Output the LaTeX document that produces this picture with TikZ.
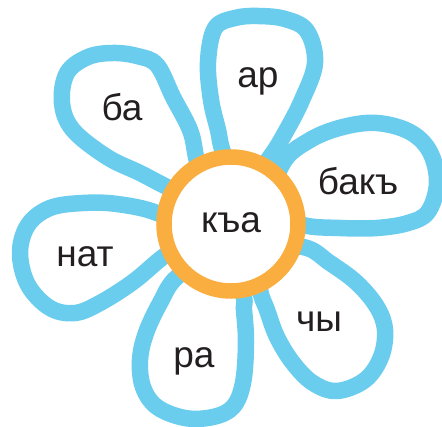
\documentclass[tikz,border=0pt]{standalone}
\usepackage{fontspec}
\setmainfont{Liberation Sans}
\definecolor{petalblue}{HTML}{6BCDEE}
\definecolor{ringorange}{HTML}{FBAE40}
\definecolor{ink}{HTML}{231F20}
\begin{document}
\begin{tikzpicture}[x=1pt,y=-1pt,
  petal/.style={draw=petalblue,fill=white,line width=16.5pt,line join=round},
  ring/.style={draw=ringorange,fill=white,line width=15.5pt},
  word/.style={anchor=base,inner sep=0pt,text=ink,font=\fontsize{37}{40}\selectfont}]
\useasboundingbox (0,0) rectangle (442,427);
% petal ba
\draw[petal] plot[smooth cycle,tension=0.6] coordinates {(205,205) (167,187) (140,173) (107,157) (73,130) (62,103) (67,73) (88,57) (113,53) (137,56) (157,65) (173,97) (190,130) (196,157)};
% petal ar
\draw[petal] plot[smooth cycle,tension=0.6] coordinates {(240,195) (223,152) (218,130) (211,100) (208,62) (215,28) (235,18) (258,16) (285,19) (307,31) (315,63) (302,100) (285,133) (270,157)};
% petal bak
\draw[petal] plot[smooth cycle,tension=0.6] coordinates {(270,210) (283,163) (310,140) (343,127) (377,123) (410,132) (430,152) (437,183) (428,212) (408,223) (377,228) (340,228) (303,225)};
% petal nat
\draw[petal] plot[smooth cycle,tension=0.6] coordinates {(195,235) (157,213) (117,204) (83,203) (50,208) (28,225) (20,253) (28,285) (50,308) (75,313) (100,303) (133,282) (163,257)};
% petal ra
\draw[petal] plot[smooth cycle,tension=0.6] coordinates {(215,255) (177,277) (160,303) (146,333) (140,360) (143,387) (157,407) (185,418) (213,417) (233,407) (243,383) (246,343) (244,310) (242,293)};
% petal chy
\draw[petal] plot[smooth cycle,tension=0.6] coordinates {(255,250) (303,247) (330,263) (357,283) (377,307) (385,330) (381,357) (365,380) (337,391) (313,383) (293,363) (277,337) (267,310) (260,290)};
% centre
\node[ring,circle,minimum size=134pt,inner sep=0pt] (centre) at (231,224) {};
\node[word] (kya) at (231,233) {къа};
\node[word] (ba) at (122,121) {ба};
\node[word] (ar) at (258,88) {ар};
\node[word] (bak) at (358,195) {бакъ};
\node[word] (nat) at (85,267) {нат};
\node[word] (ra) at (194,368) {ра};
\node[word] (chy) at (319,332) {чы};
\end{tikzpicture}
\end{document}
